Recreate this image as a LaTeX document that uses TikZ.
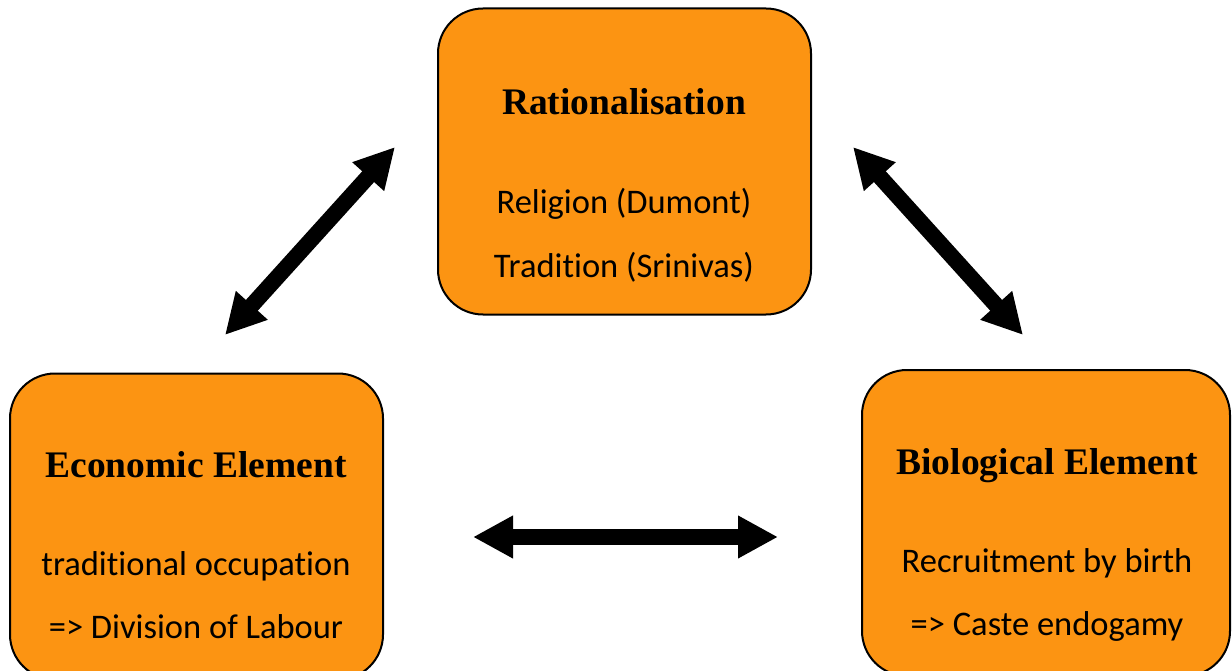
\documentclass[tikz,border=0pt]{standalone}
\usepackage{fontspec}
\setmainfont[Ligatures={NoCommon}]{Carlito}
\newfontfamily\titlefont{Liberation Serif}
\usetikzlibrary{arrows.meta}
\definecolor{boxorange}{RGB}{252,148,18}
\begin{document}
\begin{tikzpicture}[x=1pt,y=-1pt,
  box/.style={draw=black, line width=2pt, fill=boxorange, rounded corners=45pt,
    minimum width=#1, minimum height=306pt, inner sep=0pt},
  box/.default=373pt,
  titletext/.style={font=\titlefont\bfseries\fontsize{37.5}{42}\selectfont, inner sep=0pt, anchor=base},
  bodytext/.style={font=\fontsize{34.5}{40}\selectfont, inner sep=0pt, anchor=base},
  link/.style={line width=16pt,
    {Triangle[length=40pt 0 0,width=40pt 0 0]}-{Triangle[length=40pt 0 0,width=40pt 0 0]}}
]
\useasboundingbox (0,0) rectangle (1232,671);
\clip (0,0) rectangle (1232,671);

% boxes
\node[box] (rat) at (624.5,161.5) {};
\node[box] (eco) at (196.5,526.5) {};
\node[box=368pt] (bio) at (1046,523) {};

% texts
\node[titletext] (ratT) at (624,115) {Rationalisation};
\node[bodytext] (ratA) at (624,214) {Religion (Dumont)};
\node[bodytext] (ratB) at (624,277) {Tradition (Srinivas)};

\node[titletext] (ecoT) at (196,477) {Economic Element};
\node[bodytext] (ecoA) at (196,575) {traditional occupation};
\node[bodytext] (ecoB) at (196,638) {=> Division of Labour};

\node[titletext] (bioT) at (1047,474) {Biological Element};
\node[bodytext] (bioA) at (1047,572) {Recruitment by birth};
\node[bodytext] (bioB) at (1047,635) {=> Caste endogamy};

% arrow end points
\coordinate (l1) at (225,335);
\coordinate (l2) at (395,147);
\coordinate (r1) at (853,147);
\coordinate (r2) at (1023,335);
\coordinate (h1) at (473,537);
\coordinate (h2) at (778,537);

\draw[link] (l1) -- (l2);
\draw[link] (r1) -- (r2);
\draw[link] (h1) -- (h2);
\end{tikzpicture}
\end{document}
